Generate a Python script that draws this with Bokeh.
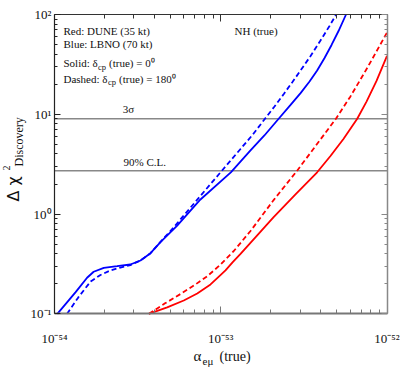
import numpy as np
from bokeh.plotting import figure
from bokeh.models import Range1d, FixedTicker, Label, LogAxis
from bokeh.embed import file_html
from bokeh.resources import INLINE

# ---------------- data ----------------
blue_solid_x = [1.04e-54, 1.34e-54, 1.57e-54, 1.72e-54, 1.98e-54, 2.38e-54, 2.86e-54,
                3.29e-54, 3.78e-54, 4.34e-54, 5.47e-54, 7.55e-54, 1.15e-53, 1.51e-53,
                1.83e-53, 2.23e-53, 2.63e-53, 3.02e-53, 3.42e-53, 3.80e-53, 4.21e-53,
                4.64e-53, 5.11e-53, 5.67e-53]
blue_solid_y = [0.100, 0.165, 0.230, 0.264, 0.289, 0.300, 0.312,
                0.342, 0.405, 0.522, 0.767, 1.40, 2.62, 4.34,
                6.13, 9.02, 12.4, 16.3, 21.3, 27.5, 36.6,
                49.5, 68.3, 100.0]

blue_dash_x = [1.19e-54, 1.39e-54, 1.65e-54, 1.89e-54, 2.17e-54, 2.49e-54, 2.86e-54,
               3.29e-54, 3.78e-54, 4.34e-54, 5.22e-54, 7.55e-54, 9.97e-54, 1.315e-53,
               1.552e-53, 1.83e-53, 2.105e-53, 2.395e-53, 2.70e-53, 3.02e-53, 3.47e-53,
               3.98e-53, 4.51e-53, 4.95e-53]
blue_dash_y = [0.100, 0.146, 0.211, 0.245, 0.272, 0.291, 0.308,
               0.342, 0.405, 0.525, 0.738, 1.52, 2.62, 4.49,
               6.20, 8.86, 11.96, 15.97, 21.06, 27.46, 38.4,
               54.9, 76.7, 100.0]

red_solid_x = [3.69e-54, 4.76e-54, 5.99e-54, 7.22e-54, 8.68e-54, 9.56e-54, 1.068e-53,
               1.177e-53, 1.315e-53, 1.657e-53, 2.08e-53, 2.816e-53, 3.80e-53, 4.57e-53,
               5.47e-53, 6.62e-53, 7.53e-53, 8.65e-53, 1.0e-52]
red_solid_y = [0.100, 0.116, 0.136, 0.160, 0.197, 0.229, 0.272,
               0.327, 0.399, 0.610, 0.929, 1.57, 2.62, 3.82,
               5.65, 9.02, 13.4, 21.6, 38.4]

red_dash_x = [3.70e-54, 4.65e-54, 5.73e-54, 7.05e-54, 8.32e-54, 9.83e-54, 1.198e-53,
              1.51e-53, 2.08e-53, 2.855e-53, 3.66e-53, 4.93e-53, 6.03e-53, 7.63e-53, 1.0e-52]
red_dash_y = [0.100, 0.128, 0.158, 0.197, 0.239, 0.305, 0.426,
              0.676, 1.38, 2.67, 4.64, 9.02, 15.1, 29.4, 66.0]

threshold_values = [9.0, 2.71]
threshold_labels = ["3σ", "90% C.L."]

x_ticks = [1e-54, 1e-53, 1e-52]
x_tick_labels = ["10⁻⁵⁴", "10⁻⁵³", "10⁻⁵²"]
y_ticks = [0.1, 1.0, 10.0, 100.0]
y_tick_labels = ["10⁻¹", "10⁰", "10¹", "10²"]

legend_lines = ["Red: DUNE (35 kt)", "Blue: LBNO (70 kt)"]
hierarchy_label = "NH (true)"

X_MIN, X_MAX = 1e-54, 1e-52
Y_MIN, Y_MAX = 0.1, 100.0

# ---------------- layout: the plot box inside a full-canvas frame ----------------
W, H = 407, 382
BOX_L, BOX_R, BOX_T, BOX_B = 54.0, 386.5, 14.0, 313.3
lx0, lx1 = np.log10(X_MIN), np.log10(X_MAX)
ly0, ly1 = np.log10(Y_MIN), np.log10(Y_MAX)
px_per_dec_x = (BOX_R - BOX_L) / (lx1 - lx0)
px_per_dec_y = (BOX_B - BOX_T) / (ly1 - ly0)
x_lo = 10 ** (lx0 - BOX_L / px_per_dec_x)
x_hi = 10 ** (lx1 + (W - BOX_R) / px_per_dec_x)
y_lo = 10 ** (ly0 - (H - BOX_B) / px_per_dec_y)
y_hi = 10 ** (ly1 + BOX_T / px_per_dec_y)

FONT = "Liberation Serif"
p = figure(width=W, height=H, x_axis_type="log", y_axis_type="log",
           x_range=Range1d(x_lo, x_hi), y_range=Range1d(y_lo, y_hi),
           output_backend="svg", toolbar_location=None, min_border=0)
p.grid.visible = False
p.outline_line_color = None
p.background_fill_color = "white"
p.border_fill_color = "white"

x_minor = [k * 10.0 ** e for e in (-54, -53) for k in range(2, 10)]
y_minor = [k * 10.0 ** e for e in (-1, 0, 1) for k in range(2, 10)]


def style_axis(ax, ticks, minor, labels, color, width, maj, mnr, standoff, loc, bounds):
    ax.fixed_location = loc
    ax.bounds = bounds
    ax.ticker = FixedTicker(ticks=ticks, minor_ticks=minor)
    ax.axis_line_color = color
    ax.axis_line_width = width
    ax.major_tick_line_color = color
    ax.minor_tick_line_color = color
    ax.major_tick_line_width = 1
    ax.minor_tick_line_width = 1
    ax.major_tick_in = maj
    ax.major_tick_out = 0
    ax.minor_tick_in = mnr
    ax.minor_tick_out = 0
    ax.major_label_standoff = standoff
    ax.axis_label = None
    ax.major_label_overrides = {t: s for t, s in zip(ticks, labels)}
    ax.major_label_text_font = FONT
    ax.major_label_text_font_size = "13px"
    ax.major_label_text_color = "#111111"


style_axis(p.xaxis[0], x_ticks, x_minor, x_tick_labels, "#777777", 2, 7, 4, 17,
           Y_MIN, (X_MIN, X_MAX))
style_axis(p.yaxis[0], y_ticks, y_minor, y_tick_labels, "#222222", 1.2, 6, 3, 3,
           X_MIN, (Y_MIN, Y_MAX))
top_ax = LogAxis()
right_ax = LogAxis()
style_axis(top_ax, x_ticks, x_minor, [""] * len(x_ticks), "#333333", 1.2, 7, 4, 0,
           Y_MAX, (X_MIN, X_MAX))
style_axis(right_ax, y_ticks, y_minor, [""] * len(y_ticks), "#888888", 1.5, 6, 3, 0,
           X_MAX, (Y_MIN, Y_MAX))
p.add_layout(top_ax, "above")
p.add_layout(right_ax, "right")

# threshold lines across the plot box
p.segment(x0=[X_MIN] * len(threshold_values), x1=[X_MAX] * len(threshold_values),
          y0=threshold_values, y1=threshold_values, line_color="#888888", line_width=1.5)

p.line(red_solid_x, red_solid_y, line_color="#ff0000", line_width=1.8)
p.line(red_dash_x, red_dash_y, line_color="#ff0000", line_width=1.8, line_dash="5 3")
p.line(blue_solid_x, blue_solid_y, line_color="#0000ff", line_width=1.8)
p.line(blue_dash_x, blue_dash_y, line_color="#0000ff", line_width=1.8, line_dash="5 3")


# ---------------- texts (pixel offsets from the box's lower-left corner) ----------------
def txt(s, px, py, size, align="left", angle=0.0, font=FONT, color="#111111"):
    p.add_layout(Label(x=X_MIN, y=Y_MIN, x_offset=px - BOX_L, y_offset=BOX_B - py, text=s,
                       text_font=font, text_font_size=f"{size}px", text_align=align,
                       text_baseline="middle", angle=angle, text_color=color))


txt(legend_lines[0], 63, 30, 11)
txt(legend_lines[1], 63, 43.5, 11)
txt("Solid: δ", 63, 62.5, 11)
txt("cp", 97.5, 66, 8.5)
txt("(true) = 0⁰", 108.5, 62.5, 11)
txt("Dashed: δ", 63, 78, 11)
txt("cp", 107.5, 81.5, 8.5)
txt("(true) = 180⁰", 118.5, 78, 11)
txt(hierarchy_label, 234, 30, 11)
txt(threshold_labels[0], 128, 108.5, 11, align="center")
txt(threshold_labels[1], 123, 161.5, 11)

# x axis title: alpha_{e mu} (true)
txt("α", 193, 355, 15)
txt("eμ", 202, 360, 11)
txt("(true)", 219, 356, 14)

# y axis title: Delta chi^2_Discovery (rotated)
ang = np.pi / 2
txt("Δ χ", 13, 201, 16, angle=ang, font="DejaVu Sans")
txt("2", 6, 170, 10, angle=ang)
txt("Discovery", 18, 166, 12, angle=ang)

open("out.html", "w").write(file_html(p, INLINE))
